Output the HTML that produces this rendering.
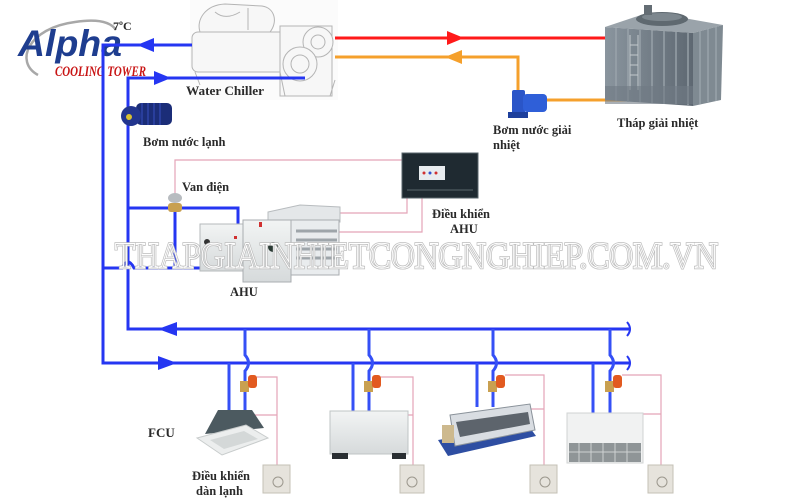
<!DOCTYPE html>
<html><head><meta charset="utf-8"><style>
html,body{margin:0;padding:0;background:#fff;}
svg{display:block;}
text{font-family:"Liberation Serif","DejaVu Serif",serif;font-weight:bold;fill:#2a2a2a;}
</style></head><body>
<svg width="800" height="500" viewBox="0 0 800 500" xmlns="http://www.w3.org/2000/svg">
<defs>
<linearGradient id="tw" x1="0" x2="1" y1="0" y2="0">
<stop offset="0" stop-color="#8a959e"/><stop offset="1" stop-color="#5e6872"/></linearGradient>
<linearGradient id="pg" x1="0" x2="0" y1="0" y2="1">
<stop offset="0" stop-color="#f2f4f4"/><stop offset="1" stop-color="#d6dadb"/></linearGradient>
</defs>
<rect width="800" height="500" fill="#fff"/>

<!-- logo -->
<path d="M38,75 C14,62 28,28 75,22 C95,19 110,21 116,30" fill="none" stroke="#a8a8a8" stroke-width="2.5"/>
<text x="18" y="56" font-family="Liberation Sans" font-style="italic" font-weight="bold" font-size="37" textLength="104" lengthAdjust="spacingAndGlyphs" style="font-family:'Liberation Sans',sans-serif;fill:#1e3d8f">Alpha</text>
<text x="55" y="76" font-style="italic" font-size="15" textLength="91" lengthAdjust="spacingAndGlyphs" style="fill:#c81414">COOLING TOWER</text>
<text x="113" y="30" font-size="12">7ºC</text>

<!-- chiller -->
<g fill="#f7f7f7" stroke="#b4b4b4" stroke-width="1">
<rect x="190" y="0" width="148" height="100" fill="#fbfbfb" stroke="none"/>
<path d="M200,32 C196,20 205,5 225,4 L262,6 C275,8 278,22 270,32 Z"/>
<rect x="192" y="32" width="95" height="40" rx="6"/>
<rect x="280" y="26" width="52" height="70"/>
<circle cx="318" cy="42" r="15"/>
<circle cx="300" cy="64" r="17"/>
<circle cx="300" cy="64" r="9"/>
<circle cx="318" cy="42" r="7"/>
<path d="M195,72 L200,85 M280,72 L285,96 M330,96 L335,80"/>
<path d="M215,12 C222,18 230,18 240,12 M248,30 L248,8"/>
</g>
<text x="186" y="95" font-size="12.5" textLength="78" lengthAdjust="spacingAndGlyphs">Water Chiller</text>

<!-- red / orange lines -->
<path d="M335,38 H606" stroke="#ff1a1a" stroke-width="3" fill="none"/>
<polygon points="464,38 447,31 447,45" fill="#ff1a1a"/>
<path d="M335,57 H518 V92" stroke="#f5a02c" stroke-width="3" fill="none"/>
<path d="M545,100 H672" stroke="#f5a02c" stroke-width="3" fill="none"/>
<polygon points="445,57 462,50 462,64" fill="#f5a02c"/>

<!-- cooling pump -->
<rect x="512" y="90" width="13" height="27" rx="2" fill="#2a55c8"/>
<rect x="523" y="94" width="24" height="18" rx="4" fill="#2f5fd8"/>
<rect x="508" y="112" width="20" height="6" fill="#1d3f9c"/>
<text x="493" y="134" font-size="12.5">Bơm nước giải</text>
<text x="493" y="149" font-size="12.5">nhiệt</text>

<!-- cooling tower -->
<polygon points="605,27 650,12 723,25 693,33" fill="#9aa3aa"/>
<ellipse cx="662" cy="19" rx="26" ry="7" fill="#5f6970"/>
<ellipse cx="662" cy="17" rx="20" ry="4" fill="#7d878e"/>
<rect x="644" y="5" width="8" height="10" fill="#646d74"/>
<polygon points="605,27 693,33 693,106 605,100" fill="url(#tw)"/>
<polygon points="693,33 723,25 721,100 693,106" fill="#7f8a92"/>
<g stroke="#9da7ae" stroke-width="1.3">
<path d="M616,28 V101 M628,29 V102 M640,30 V102 M652,30 V103 M664,31 V104 M676,32 V104 M688,33 V105"/>
<path d="M700,31 V104 M708,29 V102 M716,27 V101"/>
</g>
<path d="M630,35 V90 M638,35 V90 M630,45 H638 M630,55 H638 M630,65 H638 M630,75 H638" stroke="#c3c9cd" stroke-width="1"/>
<rect x="605" y="86" width="88" height="18" fill="#6f7a83" opacity="0.6"/>
<text x="617" y="127" font-size="12.5">Tháp giải nhiệt</text>

<!-- main chilled pipes -->
<g fill="none" stroke="#2536f2" stroke-width="3">
<path d="M192,45 H103 V363 H630"/>
<path d="M305,78 H128 V329 H630"/>
</g>
<polygon points="137,45 154,38 154,52" fill="#2536f2"/>
<polygon points="171,78 154,71 154,85" fill="#2536f2"/>
<polygon points="158,329 177,322 177,336" fill="#2536f2"/>
<polygon points="177,363 158,356 158,370" fill="#2536f2"/>
<path d="M627,322 q6,7 0,14 M627,356 q6,7 0,14" stroke="#2536f2" stroke-width="2" fill="none"/>

<!-- chilled pump -->
<rect x="136" y="103" width="36" height="22" rx="5" fill="#1b2d78"/>
<path d="M142,103 V125 M148,103 V125 M154,103 V125 M160,103 V125" stroke="#2e45a8" stroke-width="1.5"/>
<circle cx="131" cy="116" r="10" fill="#22358e"/>
<circle cx="129" cy="117" r="3" fill="#d8c030"/>
<text x="143" y="146" font-size="12.5">Bơm nước lạnh</text>

<!-- AHU branch -->
<g fill="none" stroke="#2536f2" stroke-width="3">
<path d="M128,208 H238 V230"/>
<path d="M175,208 V268"/>
<path d="M103,268 H122 q6,-12 12,0 H238"/>
</g>
<polygon points="238,236 233,228 243,228" fill="#2536f2"/>
<g fill="none" stroke="#e4a4b8" stroke-width="1.2">
<path d="M175,196 V160 H402"/>
<path d="M407,198 V213 H330"/>
<path d="M422,198 V232 H338"/>
</g>
<ellipse cx="175" cy="198" rx="7" ry="5" fill="#b8bcc0"/>
<rect x="168" y="203" width="14" height="9" rx="3" fill="#c8a050"/>
<text x="182" y="191" font-size="12.5">Van điện</text>

<!-- AHU unit -->
<polygon points="268,212 300,205 340,207 340,222 268,222" fill="#e4e7e9" stroke="#b8bcbf"/>
<rect x="200" y="224" width="43" height="47" fill="url(#pg)" stroke="#b5b9bb"/>
<rect x="243" y="220" width="48" height="62" fill="url(#pg)" stroke="#a9adb0"/>
<rect x="291" y="220" width="48" height="55" fill="#e9ecee" stroke="#a9adb0"/>
<g stroke="#9ea5aa" stroke-width="3">
<path d="M296,231 H337 M296,240 H337 M296,249 H337 M296,258 H337"/>
</g>
<circle cx="273" cy="247" r="5" fill="#2a3a34"/>
<circle cx="207" cy="242" r="3" fill="#333"/>
<rect x="259" y="222" width="3" height="5" fill="#d03030"/>
<rect x="234" y="236" width="3" height="3" fill="#d03030"/>
<text x="230" y="296" font-size="12.5">AHU</text>

<!-- AHU controller -->
<rect x="402" y="153" width="76" height="45" fill="#1f2a31" stroke="#5a666c"/>
<rect x="419" y="166" width="26" height="14" fill="#e8ecef"/>
<circle cx="424" cy="173" r="1.5" fill="#d03030"/><circle cx="430" cy="173" r="1.5" fill="#3050d0"/><circle cx="436" cy="173" r="1.5" fill="#d03030"/>
<path d="M407,190 H473" stroke="#3c484e" stroke-width="2"/>
<text x="432" y="218" font-size="12.5">Điều khiển</text>
<text x="450" y="233" font-size="12.5">AHU</text>

<!-- FCU branches -->
<g fill="none" stroke="#3550f6" stroke-width="3">
<path d="M229,363 V411"/><path d="M245,329 V355 q7,8 0,16 V411"/>
<path d="M353,363 V411"/><path d="M369,329 V355 q7,8 0,16 V411"/>
<path d="M477,363 V407"/><path d="M493,329 V355 q7,8 0,16 V407"/>
<path d="M593,363 V413"/><path d="M610,329 V355 q7,8 0,16 V413"/>
</g>
<g fill="none" stroke="#e4a4b8" stroke-width="1.2">
<path d="M257,377 H277 V466 M252,415 H277"/>
<path d="M381,377 H413 V466 M376,415 H413"/>
<path d="M505,375 H544 V466 M520,409 H544"/>
<path d="M622,375 H661 V466 M640,414 H661"/>
</g>
<g>
<rect x="240" y="381" width="9" height="11" fill="#c9a050"/><rect x="248" y="375" width="9" height="13" rx="3" fill="#e25a20"/>
<rect x="364" y="381" width="9" height="11" fill="#c9a050"/><rect x="372" y="375" width="9" height="13" rx="3" fill="#e25a20"/>
<rect x="488" y="381" width="9" height="11" fill="#c9a050"/><rect x="496" y="375" width="9" height="13" rx="3" fill="#e25a20"/>
<rect x="605" y="381" width="9" height="11" fill="#c9a050"/><rect x="613" y="375" width="9" height="13" rx="3" fill="#e25a20"/>
</g>

<!-- FCU 1 cassette -->
<polygon points="218,410 252,410 264,428 205,434" fill="#4c5a60"/>
<polygon points="197,438 246,425 268,438 222,455" fill="#eceeee" stroke="#c8cccc"/>
<polygon points="210,440 244,431 258,439 224,449" fill="#d4d8d8"/>
<text x="148" y="437" font-size="13">FCU</text>
<text x="192" y="480" font-size="12.5">Điều khiển</text>
<text x="196" y="495" font-size="12.5">dàn lạnh</text>

<!-- FCU 2 floor -->
<rect x="330" y="411" width="78" height="43" fill="url(#pg)" stroke="#bfc4c5"/>
<rect x="332" y="453" width="16" height="6" fill="#2a2f33"/><rect x="392" y="453" width="14" height="6" fill="#2a2f33"/>

<!-- FCU 3 ducted -->
<polygon points="438,440 528,425 536,436 448,456" fill="#2e4ea2"/>
<polygon points="450,415 530,404 535,430 455,446" fill="#d9dde2" stroke="#8a929a"/>
<polygon points="456,422 528,412 530,424 460,437" fill="#5d646c"/>
<rect x="442" y="425" width="12" height="18" fill="#cdb98e"/>

<!-- FCU 4 ceiling -->
<rect x="567" y="413" width="76" height="50" fill="#f1f2f2" stroke="#d0d3d3"/>
<rect x="569" y="443" width="72" height="19" fill="#8f9597"/>
<g stroke="#cdd1d2" stroke-width="1"><path d="M579,443 V462 M591,443 V462 M603,443 V462 M615,443 V462 M627,443 V462 M569,452 H641"/></g>

<!-- thermostats -->
<g fill="#e6e3dc" stroke="#c4c0b6">
<rect x="263" y="465" width="27" height="28"/><rect x="400" y="465" width="24" height="28"/>
<rect x="530" y="465" width="27" height="28"/><rect x="648" y="465" width="25" height="28"/>
</g>
<g fill="none" stroke="#9c988e"><circle cx="278" cy="482" r="5"/><circle cx="412" cy="482" r="5"/><circle cx="545" cy="482" r="5"/><circle cx="662" cy="482" r="5"/></g>

<!-- watermark (double outline) -->
<text x="115" y="268" font-size="37" textLength="603" lengthAdjust="spacingAndGlyphs" style="fill:none;stroke:#bdbdbd;stroke-width:2.6;font-weight:normal">THAPGIAINHIETCONGNGHIEP.COM.VN</text>
<text x="115" y="268" font-size="37" textLength="603" lengthAdjust="spacingAndGlyphs" style="fill:none;stroke:#ffffff;stroke-width:1;font-weight:normal">THAPGIAINHIETCONGNGHIEP.COM.VN</text>
</svg>
</body></html>
